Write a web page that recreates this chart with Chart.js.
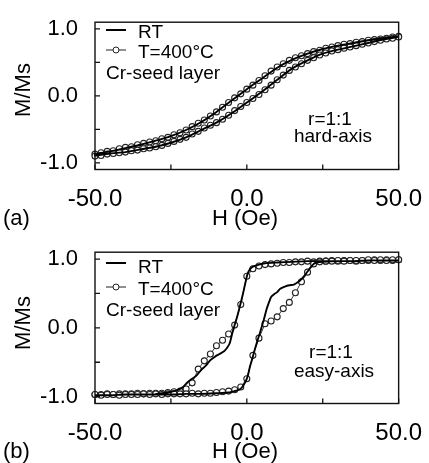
<!DOCTYPE html>
<html>
<head>
<meta charset="utf-8">
<script src="https://cdn.jsdelivr.net/npm/chart.js@4.4.1/dist/chart.umd.min.js"></script>
<style>
  body { margin: 0; background: #fff; }
  canvas { display: block; }
</style>
</head>
<body>
<canvas id="panelA" width="429" height="230"></canvas>
<canvas id="panelB" width="429" height="233"></canvas>
<script>
const FONT = '"Liberation Sans", Arial, Helvetica, sans-serif';

// axis ticks
const xTicks = [-50, -25, 0, 25, 50];
const xLabelled = [-50, 0, 50];
const yTicks = [-1, -0.5, 0, 0.5, 1];
const yLabelled = [-1, 0, 1];

// field steps of the T=400C scans (Oe)
const fieldGrid = [-50, -48, -46, -44, -42, -40, -38, -36, -34, -32, -30, -28, -26, -24, -22, -20, -18,
  -16, -14, -12, -10, -8, -6, -4, -2, 0, 2, 4, 6, 8, 10, 12, 14, 16, 18, 20, 22, 24, 26, 28, 30,
  32, 34, 36, 38, 40, 42, 44, 46, 48, 50];

// (a) hard axis, RT (branches listed with H increasing)
const hardRtH = [-50, -45, -40, -35, -30, -25, -20, -15, -10, -5, 0, 5, 10, 15, 20, 25, 30, 35, 40, 45, 50];
const hardRtDown = [-0.87, -0.83, -0.78, -0.73, -0.67, -0.60, -0.51, -0.39, -0.24, -0.07, 0.10, 0.26, 0.42,
  0.54, 0.63, 0.70, 0.75, 0.79, 0.83, 0.86, 0.89];
const hardRtUp = [-0.89, -0.86, -0.84, -0.80, -0.76, -0.70, -0.62, -0.51, -0.40, -0.26, -0.10, 0.06, 0.24,
  0.41, 0.53, 0.63, 0.69, 0.74, 0.79, 0.84, 0.88];

// (a) hard axis, T=400C
const hard400Down = [-0.87, -0.85, -0.83, -0.82, -0.79, -0.77, -0.76, -0.73, -0.71, -0.69, -0.67, -0.64,
  -0.62, -0.58, -0.55, -0.51, -0.46, -0.41, -0.36, -0.30, -0.24, -0.17, -0.10, -0.03, 0.03, 0.10, 0.16,
  0.23, 0.30, 0.37, 0.43, 0.48, 0.53, 0.57, 0.60, 0.63, 0.66, 0.68, 0.71, 0.73, 0.75, 0.77, 0.78, 0.80,
  0.81, 0.83, 0.84, 0.85, 0.86, 0.88, 0.89];
const hard400Up = [-0.90, -0.89, -0.87, -0.86, -0.85, -0.84, -0.82, -0.81, -0.79, -0.78, -0.76, -0.74,
  -0.71, -0.68, -0.65, -0.62, -0.57, -0.53, -0.48, -0.44, -0.40, -0.35, -0.29, -0.22, -0.16, -0.10, -0.04,
  0.02, 0.09, 0.16, 0.24, 0.31, 0.38, 0.43, 0.48, 0.53, 0.57, 0.61, 0.64, 0.67, 0.69, 0.71, 0.73, 0.75,
  0.77, 0.79, 0.81, 0.83, 0.85, 0.86, 0.88];

// (b) easy axis, RT
const easyRtDownH = [-50, -45, -40, -35, -31, -28, -26, -24, -22.5, -21, -19.5, -18, -16.5, -15, -13.5,
  -12, -10.5, -9, -7.5, -6.5, -5.6, -4.8, -4, -3, -2.2, -1.3, -0.5, 0.2, 1, 2, 4, 6, 10, 15, 20, 25, 30,
  35, 40, 45, 50];
const easyRtDown = [-0.98, -0.98, -0.97, -0.97, -0.97, -0.95, -0.94, -0.92, -0.90, -0.86, -0.79, -0.74,
  -0.69, -0.61, -0.55, -0.47, -0.42, -0.38, -0.34, -0.29, -0.22, -0.08, 0.04, 0.19, 0.33, 0.49, 0.65,
  0.78, 0.85, 0.89, 0.92, 0.94, 0.95, 0.96, 0.97, 0.97, 0.97, 0.97, 0.98, 0.98, 0.98];
const easyRtUpH = [-50, -45, -40, -35, -30, -25, -20, -15, -10, -6, -4, -2.5, -1.5, -0.5, 0.3, 1, 1.8,
  2.6, 3.4, 4.2, 5, 5.8, 6.5, 7.2, 8, 9, 10, 11, 12.5, 14, 15.5, 17, 18, 19, 20, 21, 22, 23, 25, 30, 35,
  40, 45, 50];
const easyRtUp = [-0.98, -0.98, -0.97, -0.97, -0.97, -0.97, -0.96, -0.96, -0.95, -0.94, -0.92, -0.90,
  -0.86, -0.79, -0.70, -0.57, -0.45, -0.32, -0.20, -0.09, 0.03, 0.15, 0.27, 0.36, 0.45, 0.49, 0.52, 0.57,
  0.60, 0.62, 0.63, 0.67, 0.71, 0.76, 0.82, 0.88, 0.93, 0.95, 0.96, 0.97, 0.97, 0.98, 0.98, 0.98];

// (b) easy axis, T=400C
const easy400Down = [-0.97, -0.97, -0.96, -0.97, -0.96, -0.96, -0.96, -0.95, -0.96, -0.95, -0.95, -0.95,
  -0.94, -0.93, -0.92, -0.89, -0.80, -0.60, -0.48, -0.38, -0.26, -0.18, -0.09, 0.04, 0.34, 0.75, 0.86,
  0.90, 0.92, 0.93, 0.94, 0.95, 0.95, 0.96, 0.96, 0.97, 0.96, 0.97, 0.97, 0.98, 0.97, 0.98, 0.98, 0.97,
  0.98, 0.98, 0.99, 0.98, 0.99, 0.98, 0.99];
const easy400Up = [-0.97, -0.98, -0.97, -0.97, -0.98, -0.97, -0.97, -0.97, -0.96, -0.97, -0.96, -0.97,
  -0.96, -0.96, -0.96, -0.96, -0.95, -0.96, -0.95, -0.95, -0.94, -0.93, -0.92, -0.90, -0.86, -0.74, -0.40,
  -0.15, 0.06, 0.10, 0.16, 0.28, 0.37, 0.51, 0.67, 0.81, 0.93, 0.96, 0.97, 0.97, 0.98, 0.97, 0.98, 0.98,
  0.98, 0.99, 0.98, 0.99, 0.98, 0.99, 0.99];

// descending branch from +50 to -50, then back up
function loopPoints(hDown, mDown, hUp, mUp) {
  const pts = [];
  for (let i = hDown.length - 1; i >= 0; i--) pts.push({ x: hDown[i], y: mDown[i] });
  for (let i = 0; i < hUp.length; i++) pts.push({ x: hUp[i], y: mUp[i] });
  return pts;
}

const decor = {
  id: 'decor',
  afterDraw(chart, args, o) {
    const { ctx, chartArea: a, scales: { x, y } } = chart;
    ctx.save();
    ctx.strokeStyle = '#111';
    ctx.lineWidth = 1.4;
    ctx.strokeRect(a.left, a.top, a.right - a.left, a.bottom - a.top);
    ctx.lineWidth = 1.3;
    ctx.beginPath();
    x.ticks.forEach(t => {
      const px = x.getPixelForValue(t.value);
      ctx.moveTo(px, a.bottom); ctx.lineTo(px, a.bottom - 5);
    });
    y.ticks.forEach(t => {
      const py = y.getPixelForValue(t.value);
      ctx.moveTo(a.left, py); ctx.lineTo(a.left + 5, py);
    });
    ctx.stroke();

    // legend
    ctx.fillStyle = '#000';
    ctx.strokeStyle = '#000';
    ctx.lineWidth = 2;
    ctx.beginPath(); ctx.moveTo(106, o.lineY); ctx.lineTo(126, o.lineY); ctx.stroke();
    ctx.lineWidth = 1;
    ctx.strokeStyle = '#222';
    ctx.beginPath(); ctx.moveTo(106, o.circY); ctx.lineTo(126, o.circY); ctx.stroke();
    ctx.beginPath(); ctx.arc(116, o.circY, 3, 0, Math.PI * 2);
    ctx.fillStyle = '#fff'; ctx.fill(); ctx.stroke();
    ctx.fillStyle = '#000';
    ctx.font = '19px ' + FONT;
    ctx.textAlign = 'left';
    ctx.textBaseline = 'alphabetic';
    ctx.fillText('RT', 138, o.rtBase);
    ctx.fillText('T=400°C', 138, o.tBase);
    ctx.fillText('Cr-seed layer', 106, o.crBase);

    ctx.textAlign = 'center';
    ctx.fillText('r=1:1', o.noteX, o.rBase);
    ctx.fillText(o.note, o.noteX + 3, o.noteBase);

    // axis titles and panel tag
    ctx.font = '22px ' + FONT;
    ctx.textBaseline = 'middle';
    ctx.fillText('H (Oe)', 245, o.titleY);
    ctx.textAlign = 'left';
    ctx.fillText(o.tag, 3, o.titleY);
    ctx.translate(24, o.yTitleY);
    ctx.rotate(-Math.PI / 2);
    ctx.textAlign = 'center';
    ctx.fillText('M/Ms', 0, 0);
    ctx.restore();
  }
};

function makePanel(id, rtPts, hotPts, topPad, xHeight, text) {
  return new Chart(document.getElementById(id), {
    type: 'scatter',
    data: {
      datasets: [
        {
          label: 'RT',
          data: rtPts,
          showLine: true,
          borderColor: '#000',
          borderWidth: 1.9,
          pointRadius: 0,
          tension: 0.2,
          clip: 5,
          order: 0
        },
        {
          label: 'T=400°C',
          data: hotPts,
          showLine: true,
          borderColor: '#222',
          borderWidth: 0.9,
          pointRadius: 3,
          pointBorderWidth: 1.1,
          pointBorderColor: '#222',
          pointBackgroundColor: '#fff',
          clip: 5,
          order: 1
        }
      ]
    },
    options: {
      responsive: false,
      animation: false,
      events: [],
      layout: { padding: { left: 0, right: 23, top: topPad, bottom: 0 } },
      plugins: {
        legend: { display: false },
        tooltip: { enabled: false },
        decor: text
      },
      scales: {
        x: {
          type: 'linear',
          min: -50,
          max: 50,
          afterBuildTicks: s => { s.ticks = xTicks.map(v => ({ value: v })); },
          afterFit: s => { s.height = xHeight; },
          grid: { display: false },
          border: { display: false },
          ticks: {
            autoSkip: false,
            maxRotation: 0,
            padding: 7,
            color: '#000',
            font: { family: FONT, size: 24 },
            callback: v => xLabelled.includes(v) ? v.toFixed(1) : ''
          }
        },
        y: {
          type: 'linear',
          min: -1.1,
          max: 1.1,
          afterBuildTicks: s => { s.ticks = yTicks.map(v => ({ value: v })); },
          afterFit: s => { s.width = 95; },
          grid: { display: false },
          border: { display: false },
          ticks: {
            padding: 9,
            color: '#000',
            font: { family: FONT, size: 22 },
            callback: v => yLabelled.includes(v) ? v.toFixed(1) : ''
          }
        }
      }
    },
    plugins: [decor]
  });
}

makePanel('panelA',
  loopPoints(hardRtH, hardRtDown, hardRtH, hardRtUp),
  loopPoints(fieldGrid, hard400Down, fieldGrid, hard400Up),
  13, 60.5,
  { lineY: 30, circY: 50, rtBase: 38, tBase: 58, crBase: 79,
    noteX: 330, rBase: 125, noteBase: 142, note: 'hard-axis',
    titleY: 219, tag: '(a)', yTitleY: 90 });

makePanel('panelB',
  loopPoints(easyRtDownH, easyRtDown, easyRtUpH, easyRtUp),
  loopPoints(fieldGrid, easy400Down, fieldGrid, easy400Up),
  18.5, 59.5,
  { lineY: 33, circY: 57, rtBase: 43, tBase: 65, crBase: 86,
    noteX: 331, rBase: 128, noteBase: 147, note: 'easy-axis',
    titleY: 222, tag: '(b)', yTitleY: 93 });
</script>
</body>
</html>
